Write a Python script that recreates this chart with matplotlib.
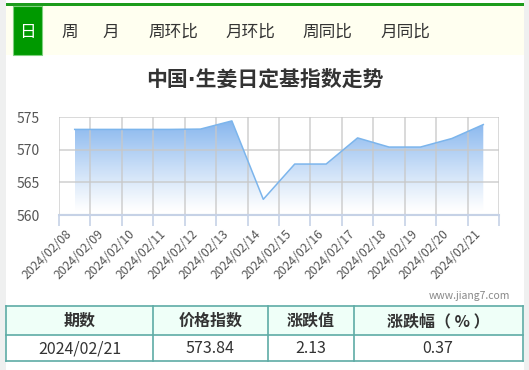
import matplotlib
matplotlib.use("Agg")
import matplotlib.pyplot as plt
from matplotlib.patches import Rectangle
import numpy as np

plt.rcParams['font.family'] = ['Noto Sans CJK SC', 'DejaVu Sans']

# data
dates = ["2024/02/08", "2024/02/09", "2024/02/10", "2024/02/11", "2024/02/12",
         "2024/02/13", "2024/02/14", "2024/02/15", "2024/02/16", "2024/02/17",
         "2024/02/18", "2024/02/19", "2024/02/20", "2024/02/21"]
values = [573.1, 573.1, 573.1, 573.1, 573.15, 574.4, 562.4, 567.8, 567.8,
          571.8, 570.4, 570.4, 571.71, 573.84]
y_ticks = [560, 565, 570, 575]
tabs = ["日", "周", "月", "周环比", "月环比", "周同比", "月同比"]
title = "中国·生姜日定基指数走势"
table_header = ["期数", "价格指数", "涨跌值", "涨跌幅（ % ）"]
table_row = ["2024/02/21", "573.84", "2.13", "0.37"]

W, H = 529, 370
fig = plt.figure(figsize=(W / 100, H / 100), dpi=100)
fig.patch.set_facecolor("white")

# overlay in pixel coords for the page decoration
bg = fig.add_axes([0, 0, 1, 1], zorder=0)
bg.set_xlim(0, W)
bg.set_ylim(H, 0)
bg.axis("off")
bg.patch.set_visible(False)

bg.add_patch(Rectangle((0, 0), 6, H, color="#eff0f0", lw=0))
bg.add_patch(Rectangle((523.5, 0), 6, H, color="#eff0f0", lw=0))
bg.add_patch(Rectangle((6, 5.5), 517.5, 49.5, color="#fffff0", lw=0))
bg.add_patch(Rectangle((6, 3), 517.5, 2.6, color="#1c9c1c", lw=0))
bg.add_patch(Rectangle((12.5, 5.6), 29.5, 49.4, facecolor="#009900",
                       edgecolor="#7fd07f", lw=0.8))

tab_x = [27, 70, 111, 173, 250, 327, 405]
for i, t in enumerate(tabs):
    bg.text(tab_x[i], 32, t, ha="center", va="center", fontsize=12,
            color="white" if i == 0 else "#333333")

bg.text(265, 80, title, ha="center", va="center", fontsize=15,
        fontweight="bold", color="#333333",
        family=["DejaVu Sans", "Noto Sans CJK SC"])

bg.text(510, 296, "www.jiang7.com", ha="right", va="center", fontsize=7.5,
        color="#888888")

# table
col_edges = [6, 153, 267.5, 353.5, 522.5]
row_edges = [306, 335, 361]
bg.add_patch(Rectangle((col_edges[0], row_edges[0]), col_edges[-1] - col_edges[0],
                       row_edges[1] - row_edges[0], color="#effff8", lw=0))
border = "#5eaca6"
for yy in row_edges:
    bg.plot([col_edges[0], col_edges[-1]], [yy, yy], color=border, lw=1.2)
for xx in col_edges:
    bg.plot([xx, xx], [row_edges[0], row_edges[-1]], color=border, lw=1.2)
for i in range(4):
    cx = (col_edges[i] + col_edges[i + 1]) / 2
    bg.text(cx, 321, table_header[i], ha="center", va="center", fontsize=11.5,
            fontweight="heavy", color="#333333")
    bg.text(cx, 348.5, table_row[i], ha="center", va="center", fontsize=11.5,
            color="#333333")

# chart
left, right, top, bottom = 59, 499, 117, 215
rect = [left / W, 1 - bottom / H, (right - left) / W, (bottom - top) / H]
ax = fig.add_axes(rect, zorder=1)
ax.set_facecolor("none")
x = np.arange(len(dates))
xmin, xmax = -0.5, len(dates) - 0.5

# gradient fill under the line
poly = ax.fill_between(x, values, 560, color="none", lw=0)
grad = np.zeros((100, 1, 4))
grad[:, 0, 0] = 0.42
grad[:, 0, 1] = 0.65
grad[:, 0, 2] = 0.92
grad[:, 0, 3] = 0.85 * np.linspace(1.0, 0.0, 100) ** 1.1
im = ax.imshow(grad, extent=[x[0], x[-1], 560.5, 575], aspect="auto",
               origin="upper", zorder=2)
im.set_clip_path(poly.get_paths()[0], transform=ax.transData)

ax.set_xlim(xmin, xmax)
ax.set_ylim(560, 575)

for s in ["left", "right", "top"]:
    ax.spines[s].set_visible(False)
ax.spines["bottom"].set_color("#c6d2e6")
ax.spines["bottom"].set_linewidth(1.5)

ax.set_yticks(y_ticks)
ax.set_yticklabels([str(v) for v in y_ticks])
ax.tick_params(axis="y", length=0, pad=14, labelsize=10, labelcolor="#555555")

ax.set_xticks(x)
ax.set_xticklabels(dates, rotation=45, ha="right", va="top")
ax.tick_params(axis="x", which="major", length=0, pad=9, labelsize=8.8,
               labelcolor="#555555")
bounds = np.arange(-0.5, len(dates))
ax.set_xticks(bounds, minor=True)
ax.tick_params(axis="x", which="minor", length=8, width=1.2, color="#c6d2e6")

# grid and line on a separate transparent axes on top
gax = fig.add_axes(rect, zorder=2)
gax.set_xlim(xmin, xmax)
gax.set_ylim(560, 575)
gax.axis("off")
gax.patch.set_visible(False)
for b in bounds:
    gax.plot([b, b], [560, 575], color="#c8c8c8", lw=1.2, alpha=0.8)
for v in y_ticks[1:]:
    gax.plot([xmin, xmax], [v, v], color="#c8c8c8", lw=1.2, alpha=0.8)
gax.plot([xmin, xmax], [560, 560], color="#c6d2e6", lw=1.5)
gax.plot(x, values, color="#7cb5ec", lw=1.1)
gax.set_xlim(xmin, xmax)
gax.set_ylim(560, 575)

fig.savefig("out.png", dpi=100)
